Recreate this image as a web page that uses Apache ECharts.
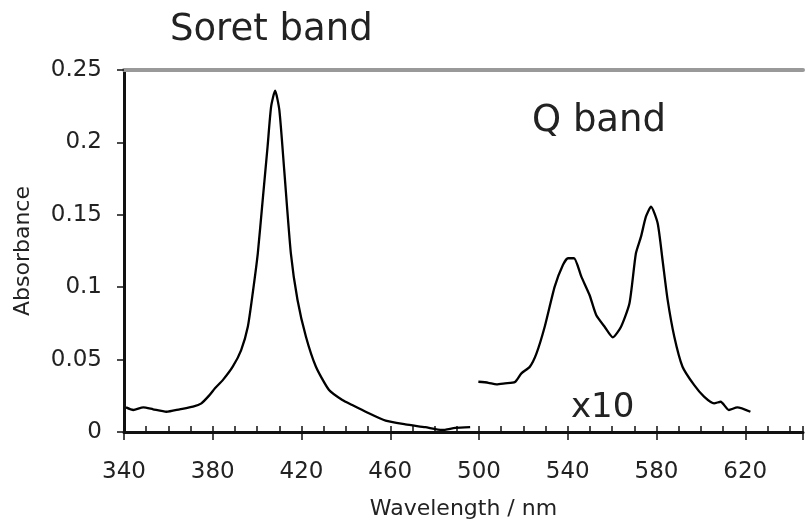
<!DOCTYPE html>
<html>
<head>
<meta charset="utf-8">
<script src="https://cdn.jsdelivr.net/npm/echarts@6/dist/echarts.min.js"></script>
<style>html,body{margin:0;padding:0;background:#fff;}#c{width:806px;height:527px;}</style>
</head>
<body>
<div id="c"></div>
<script>
// Soret band spectrum (nm, absorbance)
var soretNm  = [340.9, 344.2, 348.7, 353.1, 359.1, 365.1, 371.1, 374.9, 378.6, 381.0, 384.6, 389.0, 392.8, 395.8, 398.0, 400.3, 402.5, 404.7, 406.3, 408.1, 410.0, 412.2, 415.2, 418.2, 422.0, 426.5, 432.4, 438.4, 442.9, 448.9, 457.9, 466.8, 475.8, 483.3, 489.3, 496.0];
var soretAbs = [0.0170, 0.0152, 0.0170, 0.0157, 0.0140, 0.0157, 0.0175, 0.0198, 0.0256, 0.0302, 0.0360, 0.0451, 0.0566, 0.0727, 0.0958, 0.1234, 0.1602, 0.1970, 0.2247, 0.2357, 0.2224, 0.1810, 0.1234, 0.0912, 0.0658, 0.0451, 0.0290, 0.0221, 0.0186, 0.0140, 0.0078, 0.0053, 0.0033, 0.0014, 0.0028, 0.0033];
// Q band spectrum (displayed x10)
var qNm  = [499.7, 504.2, 507.9, 511.7, 516.2, 519.1, 522.9, 525.9, 529.6, 534.1, 537.8, 540.1, 542.8, 546.1, 549.8, 552.8, 556.6, 560.3, 564.0, 567.8, 570.7, 573.0, 575.2, 577.5, 580.5, 582.7, 585.0, 588.0, 591.7, 596.9, 601.4, 605.9, 608.9, 612.6, 616.4, 622.3];
var qAbs = [0.0347, 0.0340, 0.0329, 0.0336, 0.0345, 0.0405, 0.0451, 0.0543, 0.0727, 0.1004, 0.1153, 0.1200, 0.1200, 0.1073, 0.0946, 0.0808, 0.0727, 0.0654, 0.0727, 0.0889, 0.1234, 0.1349, 0.1487, 0.1556, 0.1441, 0.1188, 0.0912, 0.0658, 0.0451, 0.0325, 0.0244, 0.0198, 0.0209, 0.0152, 0.0170, 0.0140];
// Axis ticks
var xMin = 340, xMax = 646, xStep = 40, xLastLabel = 620;
var yMin = 0, yMax = 0.25, yStep = 0.05;
var yTickLabels = ['0', '0.05', '0.1', '0.15', '0.2', '0.25'];
var annotations = ['Soret band', 'Q band', 'x10'];

function pairs(xs, ys) { return xs.map(function (x, i) { return [x, ys[i]]; }); }

var FONT = 'DejaVu Sans';
var chart = echarts.init(document.getElementById('c'), null, { renderer: 'canvas' });
chart.setOption({
  animation: false,
  backgroundColor: '#ffffff',
  grid: { left: 124, right: 0, top: 70, bottom: 95, containLabel: false },
  xAxis: [
    {
      type: 'value', min: xMin, max: xMax, interval: xStep, position: 'bottom',
      name: 'Wavelength / nm', nameLocation: 'middle', nameGap: 66,
      nameTextStyle: { fontFamily: FONT, fontSize: 22, color: '#222' },
      axisLine: { show: true, onZero: false, lineStyle: { color: '#111', width: 3 } },
      axisTick: { show: true, inside: false, length: 8, lineStyle: { color: '#111', width: 1.5 } },
      minorTick: { show: false },
      axisLabel: { fontFamily: FONT, fontSize: 23, color: '#222', margin: 29,
        formatter: function (v) { return (v - xMin) % xStep === 0 && v <= xLastLabel ? String(v) : ''; } },
      splitLine: { show: false }
    },
    {
      type: 'value', min: xMin, max: xMax, interval: xStep, position: 'bottom',
      axisLine: { show: false, onZero: false },
      axisTick: { show: true, inside: true, length: 6, lineStyle: { color: '#111', width: 1.5 } },
      minorTick: { show: true, splitNumber: 4, length: 6, lineStyle: { color: '#111', width: 1.5 } },
      axisLabel: { show: false },
      splitLine: { show: false }
    },
    {
      type: 'value', min: xMin, max: xMax, position: 'top',
      axisLine: { show: true, onZero: false, lineStyle: { color: '#999', width: 4 } },
      axisTick: { show: false }, axisLabel: { show: false }, splitLine: { show: false }
    }
  ],
  yAxis: {
    type: 'value', min: yMin, max: yMax, interval: yStep,
    name: 'Absorbance', nameLocation: 'middle', nameGap: 90, nameRotate: 90,
    nameTextStyle: { fontFamily: FONT, fontSize: 22, color: '#222' },
    axisLine: { show: true, lineStyle: { color: '#111', width: 3 } },
    axisTick: { show: true, inside: false, length: 7, lineStyle: { color: '#111', width: 1.5 } },
    axisLabel: { fontFamily: FONT, fontSize: 23, color: '#222', margin: 22,
      formatter: function (v) { var i = Math.round((v - yMin) / yStep); return yTickLabels[i] || ''; } },
    splitLine: { show: false }
  },
  graphic: [
    { type: 'text', left: 170, top: 12, style: { text: annotations[0], font: '37px "DejaVu Sans"', fill: '#222' } },
    { type: 'text', left: 532, top: 103, style: { text: annotations[1], font: '37px "DejaVu Sans"', fill: '#222' } },
    { type: 'text', left: 571, top: 391, style: { text: annotations[2], font: '34px "DejaVu Sans"', fill: '#222' } }
  ],
  series: [
    { name: 'Soret', type: 'line', xAxisIndex: 0, data: pairs(soretNm, soretAbs), showSymbol: false, symbol: 'none',
      smooth: 0.2, lineStyle: { color: '#000', width: 2.3 } },
    { name: 'Q', type: 'line', xAxisIndex: 0, data: pairs(qNm, qAbs), showSymbol: false, symbol: 'none',
      smooth: 0.2, lineStyle: { color: '#000', width: 2.3 } }
  ]
});
</script>
</body>
</html>
